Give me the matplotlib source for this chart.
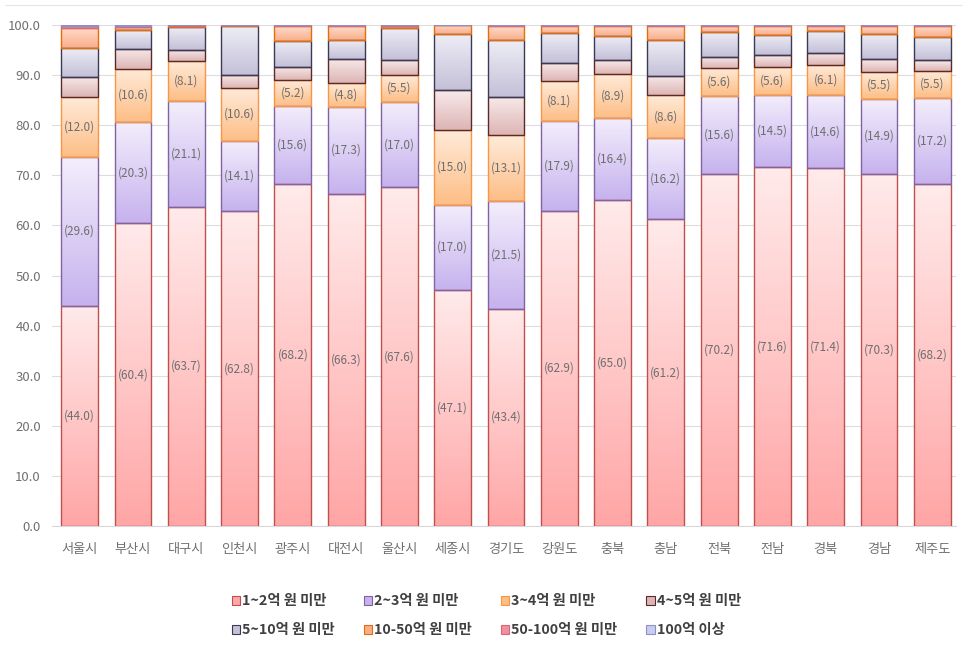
import matplotlib
matplotlib.use("Agg")
import matplotlib.pyplot as plt
from matplotlib.colors import to_rgb
from matplotlib.patches import Patch
from matplotlib.lines import Line2D
import numpy as np

plt.rcParams['font.family'] = ['Noto Sans CJK KR', 'DejaVu Sans']

# 지역
regions = ['서울시', '부산시', '대구시', '인천시', '광주시', '대전시', '울산시', '세종시', '경기도',
           '강원도', '충북', '충남', '전북', '전남', '경북', '경남', '제주도']

# 구간별 비중 (%)
v_1_2 = [44.0, 60.4, 63.7, 62.8, 68.2, 66.3, 67.6, 47.1, 43.4, 62.9, 65.0, 61.2, 70.2, 71.6, 71.4, 70.3, 68.2]
v_2_3 = [29.6, 20.3, 21.1, 14.1, 15.6, 17.3, 17.0, 17.0, 21.5, 17.9, 16.4, 16.2, 15.6, 14.5, 14.6, 14.9, 17.2]
v_3_4 = [12.0, 10.6, 8.1, 10.6, 5.2, 4.8, 5.5, 15.0, 13.1, 8.1, 8.9, 8.6, 5.6, 5.6, 6.1, 5.5, 5.5]
v_4_5 = [4.0, 4.0, 2.2, 2.6, 2.7, 4.9, 2.9, 7.9, 7.7, 3.6, 2.7, 3.8, 2.3, 2.3, 2.4, 2.5, 2.1]
v_5_10 = [5.8, 3.7, 4.6, 9.8, 5.2, 3.8, 6.5, 11.2, 11.4, 6.0, 4.8, 7.3, 5.0, 4.1, 4.4, 5.1, 4.7]
v_10_50 = [4.0, 0.6, 0.2, 0.1, 2.9, 2.7, 0.3, 1.8, 2.7, 1.3, 2.0, 2.7, 1.1, 1.7, 0.9, 1.5, 2.1]
v_50_100 = [0.5, 0.2, 0.1, 0.0, 0.2, 0.2, 0.2, 0.0, 0.2, 0.2, 0.2, 0.2, 0.2, 0.2, 0.2, 0.2, 0.2]
v_100 = [0.1, 0.2, 0.1, 0.0, 0.0, 0.0, 0.0, 0.0, 0.0, 0.0, 0.0, 0.0, 0.0, 0.0, 0.0, 0.0, 0.0]

# 이름, 값, 위쪽 색, 아래쪽 색, 테두리, 라벨 표시
series = [
    ('1~2억 원 미만', v_1_2, '#FFEAEA', '#FFA6A6', '#C0504D', True),
    ('2~3억 원 미만', v_2_3, '#F3EEFC', '#C6B2EE', '#8064A2', True),
    ('3~4억 원 미만', v_3_4, '#FFEBDA', '#FDBE86', '#F79646', True),
    ('4~5억 원 미만', v_4_5, '#F8EAEA', '#DDB5B5', '#5A2A2A', False),
    ('5~10억 원 미만', v_5_10, '#EEEEF6', '#C4C0D8', '#3A3A55', False),
    ('10-50억 원 미만', v_10_50, '#FFDCCB', '#F8AE8A', '#E46C0A', False),
    ('50-100억 원 미만', v_50_100, '#FCD0D6', '#F0909E', '#D9667A', False),
    ('100억 이상', v_100, '#F0F0FC', '#C8CCEE', '#9090C8', False),
]

fig = plt.figure(figsize=(9.63, 6.5), dpi=100)
# 차트 영역 위쪽의 옅은 테두리
fig.add_artist(Line2D([0.005, 1.0], [0.992, 0.992], color='#E6E6E6', linewidth=0.8))
ax = fig.add_axes([0.054, 0.1908, 0.939, 0.7707])

x = np.arange(len(regions))
w = 0.69
bottom = np.zeros(len(regions))
handles = []
for name, vals, c_top, c_bot, ec, show in series:
    vals = np.array(vals)
    grad = np.linspace(to_rgb(c_top), to_rgb(c_bot), 64).reshape(64, 1, 3)
    for xi, b, v in zip(x, bottom, vals):
        if v > 0:
            ax.imshow(grad, extent=[xi - w / 2, xi + w / 2, b, b + v], origin='upper',
                      aspect='auto', interpolation='bilinear', zorder=2)
    ax.bar(x, vals, w, bottom=bottom, facecolor='none', edgecolor=ec, linewidth=1.0, zorder=3)
    if show:
        for xi, b, v in zip(x, bottom, vals):
            ax.text(xi, b + v / 2, '({:.1f})'.format(v), ha='center', va='center',
                    fontsize=8.5, color='#6E6E6E', zorder=4)
    handles.append(Patch(facecolor=c_bot, edgecolor=ec, linewidth=0.8, label=name))
    bottom += vals

ax.set_xlim(-0.52, 16.45)
ax.set_ylim(0, 100)
ax.set_yticks(np.arange(0, 101, 10))
ax.set_yticklabels(['{:.1f}'.format(t) for t in np.arange(0, 101, 10)])
ax.set_xticks(x)
ax.set_xticklabels(regions)
ax.tick_params(axis='both', length=0, labelsize=9.5, colors='#707070')
ax.tick_params(axis='x', pad=12)
ax.tick_params(axis='y', pad=8)
ax.grid(axis='y', color='#DDDDDD', linewidth=0.8, zorder=0)
for s in ['top', 'right', 'left']:
    ax.spines[s].set_visible(False)
ax.spines['bottom'].set_color('#D9D9D9')

# 범례: 행 우선 순서로 배치
order = [0, 4, 1, 5, 2, 6, 3, 7]
leg = fig.legend([handles[i] for i in order], [handles[i].get_label() for i in order],
                 loc='lower center', bbox_to_anchor=(0.505, 0.0), ncol=4, frameon=False,
                 fontsize=10.3, handlelength=0.6, handleheight=0.6, handletextpad=0.15,
                 columnspacing=2.0, labelspacing=1.05)
for t in leg.get_texts():
    t.set_color('#404040')
    t.set_fontweight('bold')

fig.savefig('out.png', dpi=100)
